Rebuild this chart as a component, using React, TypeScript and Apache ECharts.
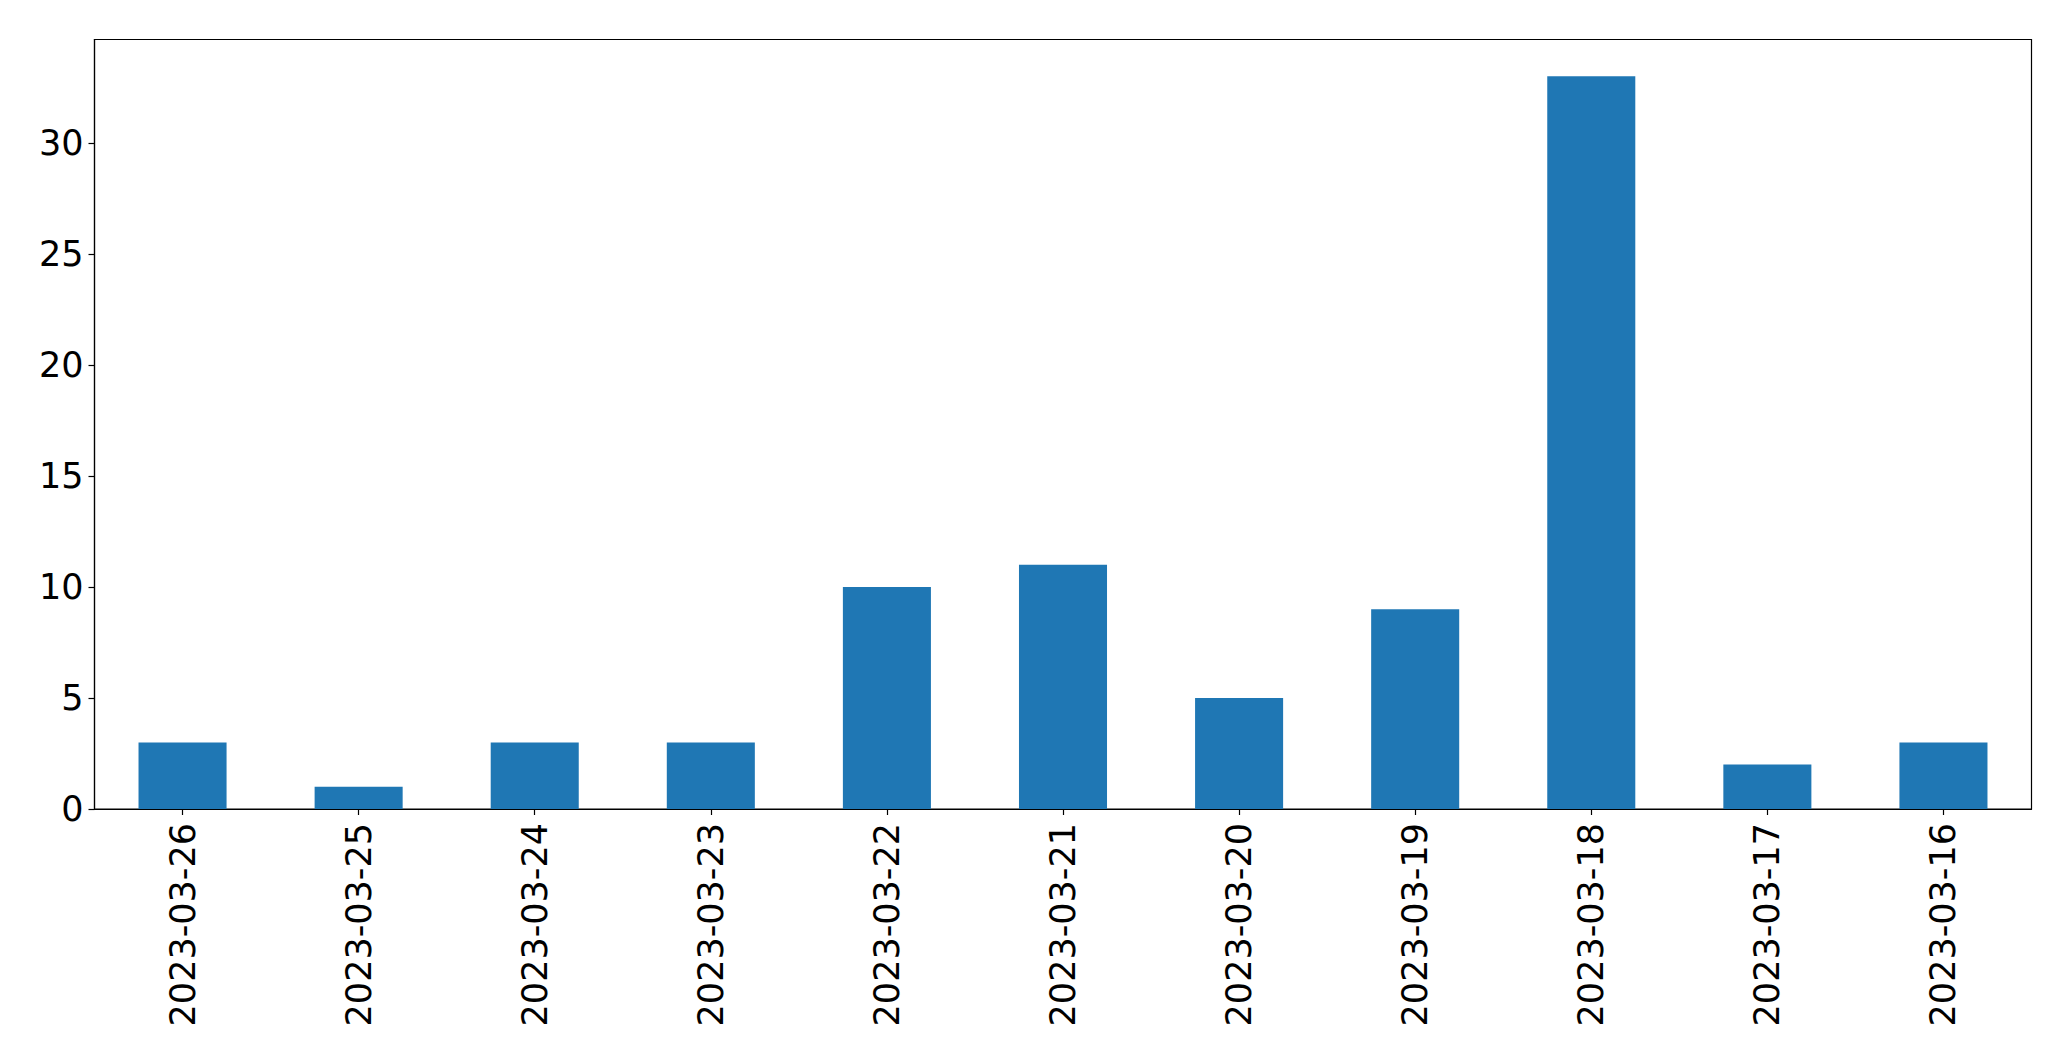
import React, { useEffect, useRef } from "react";
import * as echarts from "echarts";

const categories = [
  "2023-03-26", "2023-03-25", "2023-03-24", "2023-03-23", "2023-03-22", "2023-03-21",
  "2023-03-20", "2023-03-19", "2023-03-18", "2023-03-17", "2023-03-16",
];
const counts = [3, 1, 3, 3, 10, 11, 5, 9, 33, 2, 3];
const yTicks = [0, 5, 10, 15, 20, 25, 30];
const yMax = 34.65;

export default function App() {
  const ref = useRef<HTMLDivElement>(null);
  useEffect(() => {
    if (!ref.current) return;
    const chart = echarts.init(ref.current, undefined, { renderer: "svg" });
    const font = "DejaVu Sans";
    chart.setOption({
      animation: false,
      backgroundColor: "#ffffff",
      grid: {
        left: 94.5,
        right: 39.5,
        top: 39.5,
        bottom: 252,
        show: true,
        borderColor: "#000000",
        borderWidth: 1.2,
        backgroundColor: "transparent",
      },
      xAxis: {
        type: "category",
        data: categories,
        boundaryGap: true,
        axisLine: { show: true, lineStyle: { color: "#000000", width: 1.2 } },
        axisTick: { show: true, alignWithLabel: true, length: 6, lineStyle: { color: "#000000", width: 1.2 } },
        axisLabel: {
          rotate: 90,
          interval: 0,
          margin: 14,
          color: "#000000",
          fontFamily: font,
          fontSize: 35,
        },
        splitLine: { show: false },
      },
      yAxis: {
        type: "value",
        min: 0,
        max: yMax,
        interval: 5,
        axisLine: { show: true, lineStyle: { color: "#000000", width: 1.2 } },
        axisTick: { show: true, length: 6, lineStyle: { color: "#000000", width: 1.2 }, customValues: yTicks },
        axisLabel: {
          margin: 11,
          color: "#000000",
          fontFamily: font,
          fontSize: 35,
          customValues: yTicks,
        },
        splitLine: { show: false },
      },
      series: [
        {
          type: "bar",
          data: counts,
          barWidth: "50%",
          itemStyle: { color: "#1f77b4" },
        },
      ],
    });
    return () => chart.dispose();
  }, []);
  return (
    <div
      ref={ref}
      style={{ position: "fixed", left: 0, top: 0, width: 2071, height: 1061, background: "#fff" }}
    />
  );
}
